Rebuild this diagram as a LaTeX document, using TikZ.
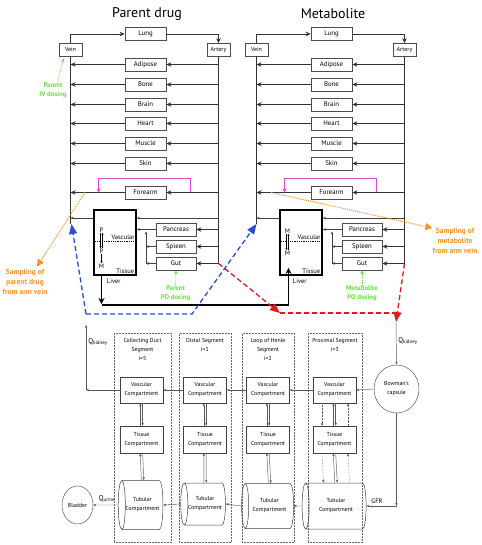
\documentclass[tikz,border=0pt]{standalone}
\usepackage{fontspec}
\setmainfont{PT Sans}
\usetikzlibrary{shapes.geometric,arrows.meta}
\definecolor{dosegreen}{RGB}{98,226,60}
\definecolor{sampleorange}{RGB}{246,146,30}
\definecolor{loopmagenta}{RGB}{222,70,222}
\definecolor{veinblue}{RGB}{38,78,214}
\definecolor{arteryred}{RGB}{228,24,24}
\begin{document}
\begin{tikzpicture}[x=1pt,y=-1pt,
        organ/.style={draw=black!70,line width=0.7pt,minimum width=41pt,minimum height=13pt,inner sep=0pt,font=\fontsize{6.8}{7}\selectfont},
        vessel/.style={organ,minimum width=23pt,font=\fontsize{6}{7}\selectfont},
        liver/.style={draw,line width=1.6pt,minimum width=42pt,minimum height=65pt,inner sep=0pt},
        flow/.style={-{Stealth[length=5pt,width=4.5pt]},line width=0.7pt,draw=black!80},
        portal/.style={-{Stealth[length=3pt,width=2.6pt]},line width=0.5pt,draw=black!75},
        bigflow/.style={-{Stealth[length=6pt,width=6pt]},line width=1.8pt},
        tiny/.style={-{Stealth[length=2pt,width=2pt]},line width=0.4pt},
        small/.style={font=\fontsize{6.5}{7}\selectfont,inner sep=0.5pt},
        dose/.style={text=dosegreen,font=\bfseries\fontsize{6.8}{8.5}\selectfont,align=center,inner sep=0pt},
        dosearrow/.style={dosegreen,densely dotted,line width=0.8pt,-{Stealth[length=4pt,width=3.5pt]}},
        sample/.style={text=sampleorange,font=\bfseries\fontsize{7.5}{10}\selectfont,align=center,inner sep=0pt},
        samplearrow/.style={sampleorange,densely dotted,line width=1pt,-{Triangle[length=7pt,width=7pt]}},
        blood/.style={dash pattern=on 5pt off 3pt,line width=1.3pt},
        bloodtip/.style={-{Triangle[length=10pt,width=8pt]}},
        segment/.style={draw=black!60,densely dotted,line width=0.5pt,minimum height=209pt,inner sep=0pt},
        klabel/.style={font=\fontsize{5.8}{9}\selectfont,align=center,inner sep=0pt},
        comp/.style={klabel,draw=black!75,line width=0.5pt,minimum width=43pt,minimum height=26pt},
        tube/.style={comp,cylinder,shape border rotate=180,aspect=0.5},
        kflow/.style={-{Stealth[length=3pt,width=2.4pt]},line width=0.45pt,draw=black!65}]
    \useasboundingbox (0,0) rectangle (481,545);
    \foreach \m/\dx/\ttl in {p/0/Parent drug,m/186/Metabolite}{
    \begin{scope}[xshift=\dx]
        \node[font=\fontsize{14}{16}\selectfont] (title\m) at (147,14) {\ttl};
        \node[organ] (lung\m) at (145.5,34) {Lung};
        \node[vessel] (vein\m) at (70.5,49.5) {Vein};
        \node[vessel] (art\m) at (218.5,50) {Artery};
        \draw[flow] (vein\m.north) |- (lung\m.west);
        \draw[flow] (lung\m.east) -| (art\m.north);
        \coordinate (vbot\m) at (70.5,224);
        \coordinate (abot\m) at (218.5,263.5);
        \draw[line width=0.7pt,black!80] (vein\m.south) -- (vbot\m) (art\m.south) -- (abot\m);
        \foreach \org/\y in {Adipose/64.5,Bone/84.5,Brain/104.5,Heart/123.5,Muscle/143.5,Skin/163.5,Forearm/192.5}{
            \node[organ] (\org\m) at (145.5,\y) {\org};
            \draw[flow] (art\m.south |- \org\m) -- (\org\m.east);
            \draw[flow] (\org\m.west) -- (vein\m.south |- \org\m);
        }
        \draw[loopmagenta,line width=0.7pt,-{Stealth[length=4pt,width=4pt]}] ([xshift=24]Forearm\m.east) -- ++(0,-14.5) -| ([xshift=-26]Forearm\m.west);
        \coordinate (draw\m) at (85,192.5);
        \node[liver] (liver\m) at (115,242.5) {};
        \node[small,anchor=south east] (vasc\m) at ([xshift=-1.5,yshift=2]liver\m.east) {Vascular};
        \draw[densely dotted,line width=0.8pt] ([yshift=1.5]liver\m.west) -- ([yshift=1.5]liver\m.east);
        \node[small,anchor=south east] (tissue\m) at ([xshift=-2,yshift=1.5]liver\m.south east) {Tissue};
        \node[small,anchor=north west] (livername\m) at ([xshift=13,yshift=-2]liver\m.south west) {Liver};
        \coordinate (hin\m) at (218.5,218);
        \draw[portal] (hin\m) -- (liver\m.east |- hin\m);
        \draw[portal] (liver\m.west |- hin\m) -- (vein\m.south |- hin\m);
        \foreach \g/\y in {Pancreas/229.5,Spleen/246.5,Gut/263.5}{
            \node[organ,minimum width=40pt] (\g\m) at (176,\y) {\g};
            \draw[flow] (art\m.south |- \g\m) -- (\g\m.east);
        }
        \coordinate (pv\m) at (146,263.5);
        \draw[portal] (Pancreas\m.west) -- (liver\m.east |- Pancreas\m);
        \draw[portal] (Spleen\m.west) -- (pv\m |- Spleen\m);
        \draw[portal] (Gut\m.west) -- (pv\m);
        \draw[portal] (pv\m) -- ++(0,-32);
    \end{scope}
    }
    \node[small] (pa) at (101.5,230) {P};
    \node[small] (pb) at (101.5,251) {P};
    \node[small] (pc) at (101.5,266) {M};
    \draw[tiny] ([xshift=-1]pa.south) -- ([xshift=-1]pb.north);
    \draw[tiny] ([xshift=1]pb.north) -- ([xshift=1]pa.south);
    \draw[tiny] (pb.south) -- (pc.north);
    \node[small] (ma) at (287.5,231) {M};
    \node[small] (mb) at (287.5,253) {M};
    \draw[tiny] ([xshift=-1]ma.south) -- ([xshift=-1]mb.north);
    \draw[tiny] ([xshift=1]mb.north) -- ([xshift=1]ma.south);
    \coordinate (mjoin) at (101.5,305);
    \coordinate (mrise) at (288.5,305);
    \draw[bigflow] (pc.south |- liverp.south) -- ([yshift=1]mjoin);
    \draw[line width=1.1pt] (mjoin) -- (mrise);
    \draw[bigflow] (mrise) -- ([yshift=8]liverm.south -| mrise);
    \coordinate (kout) at (86,314);
    \coordinate (bend) at (192,314);
    \draw[veinblue,blood,bloodtip] (kout) -- ([xshift=1]vbotp);
    \draw[veinblue,blood,bloodtip] (kout) -- (bend) -- (vbotm);
    \coordinate (rjoin) at (280,313);
    \coordinate (rmeet) at (397,313);
    \coordinate (qtop) at (396,322);
    \draw[arteryred,blood,bloodtip] (abotp) -- (rjoin);
    \draw[arteryred,blood] (rjoin) -- (rmeet);
    \draw[arteryred,blood,bloodtip] (abotm) -- (qtop);
    \node[dose] (ivdose) at (53,90.5) {Parent\\IV dosing};
    \draw[dosearrow] ([xshift=4,yshift=-1]ivdose.north) -- ([xshift=5,yshift=-2]veinp.south west);
    \node[dose] (podosep) at (175.5,293.5) {Parent\\PO dosing};
    \draw[dosearrow] (podosep.north) -- (Gutp.south);
    \node[dose] (podosem) at (362,293.5) {Metabolite\\PO dosing};
    \draw[dosearrow] (podosem.north) -- (Gutm.south);
    \node[sample] (sampp) at (25,281.5) {Sampling of\\parent drug\\from arm vein};
    \draw[samplearrow] (drawp) -- ([xshift=12,yshift=2]sampp.north);
    \node[sample] (sampm) at (455,241) {Sampling of\\metabolite\\from arm vein};
    \draw[samplearrow] (drawm) -- (sampm.north west);
    \node[segment,minimum width=57pt] (segcd) at (142.5,437.5) {};
    \node[segment,minimum width=52pt] (segds) at (205,437.5) {};
    \node[segment,minimum width=52pt] (seglh) at (268,437.5) {};
    \node[segment,minimum width=54pt] (segpx) at (335,437.5) {};
    \node[klabel,anchor=north] (namecd) at ([yshift=-5]segcd.north) {Collecting Duct\\Segment\\i=5};
    \node[klabel,anchor=north] (nameds) at ([yshift=-5]segds.north) {Distal Segment\\i=1};
    \node[klabel,anchor=north] (namelh) at ([yshift=-5]seglh.north) {Loop of Henle\\Segment\\i=2};
    \node[klabel,anchor=north] (namepx) at ([yshift=-5]segpx.north) {Proximal Segment\\i=3};
    \foreach \s/\x/\tx/\w/\h/\ty in {cd/141.5/142.5/49/36/505,ds/205/205/42/44/504,lh/268/269.5/45/52/506,px/334.5/336/46/64/506}{
        \node[comp] (v\s) at (\x,390) {Vascular\\Compartment};
        \node[comp,minimum height=27pt] (t\s) at (\x,439.5) {Tissue\\Compartment};
        \node[tube,minimum width=\w pt,minimum height=\h pt] (u\s) at (\tx,\ty) {Tubular\\Compartment};
        \draw[kflow] ([xshift=-1.2]t\s.north) -- ([xshift=-1.2]v\s.south);
        \draw[kflow] ([xshift=1.2]v\s.south) -- ([xshift=1.2]t\s.north);
        \draw[kflow] ([xshift=-1.2]u\s.north) -- ([xshift=-1.2]t\s.south);
        \draw[kflow] ([xshift=1.2]t\s.south) -- ([xshift=1.2]u\s.north);
    }
    \draw[kflow,densely dotted] ([xshift=-12.5]vpx.south) -- ([xshift=-12.5]tpx.north);
    \draw[kflow,densely dotted] ([xshift=-12.5]tpx.south) -- ([xshift=-12.5]upx.north);
    \draw[kflow,densely dotted] ([xshift=13.5]upx.north) -- ([xshift=13.5]tpx.south);
    \draw[kflow,densely dotted] ([xshift=13.5]tpx.north) -- ([xshift=13.5]vpx.south);
    \draw[kflow] (vpx.west) -- (vlh.east);
    \draw[kflow] (vlh.west) -- (vds.east);
    \draw[kflow] (vds.west) -- (vcd.east);
    \coordinate (qk) at (86,390);
    \coordinate (qkup) at (86,325);
    \draw[kflow] (vcd.west) -- (qk);
    \draw[kflow] (qk) -- (qkup);
    \node[klabel,font=\fontsize{7}{8}\selectfont] (qkl) at (98,342) {Q\textsubscript{kidney}};
    \draw[kflow] (upx.west) -- (ulh.east);
    \draw[kflow] (ulh.west) -- (uds.east);
    \draw[kflow] (uds.west) -- (ucd.east);
    \node[klabel,draw=black!65,line width=0.5pt,ellipse,minimum width=31pt,minimum height=38pt] (bladder) at (77.5,505) {Bladder};
    \draw[kflow] (ucd.west) -- (bladder.east);
    \node[klabel,font=\fontsize{7}{8}\selectfont] (qul) at (107,499) {Q\textsubscript{urine}};
    \node[klabel,draw=black!65,line width=0.5pt,ellipse,minimum width=45pt,minimum height=48pt] (bowman) at (396.5,389) {Bowman's\\capsule};
    \draw[kflow] (qtop) -- (bowman.north);
    \node[klabel,font=\fontsize{7}{8}\selectfont] (qkr) at (408,341) {Q\textsubscript{kidney}};
    \draw[kflow] (bowman.west) -- (vpx.east);
    \coordinate (gfr) at (bowman.south |- upx);
    \draw[kflow] (bowman.south) -- (gfr);
    \draw[kflow] (gfr) -- (upx.east);
    \node[klabel,font=\fontsize{6.5}{8}\selectfont] (gfrl) at (377,501) {GFR};
\end{tikzpicture}
\end{document}
